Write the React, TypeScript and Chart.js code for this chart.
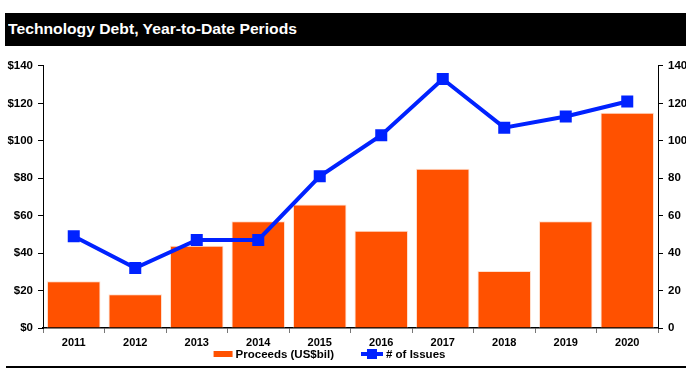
import React, { useEffect, useLayoutEffect, useRef } from "react";
import { Chart, registerables } from "chart.js";

Chart.register(...registerables);

const years = ["2011", "2012", "2013", "2014", "2015", "2016", "2017", "2018", "2019", "2020"];
const proceeds = [25, 18, 44, 57, 66, 52, 85, 30.5, 57, 115];
const issues = [49, 32, 47, 47, 81, 103, 133, 107, 113, 121];
const leftTicks = [0, 20, 40, 60, 80, 100, 120, 140];
const titleText = "Technology Debt, Year-to-Date Periods";
const proceedsLabel = "Proceeds (US$bil)";
const issuesLabel = "# of Issues";

const ORANGE = "#FF5100";
const BLUE = "#0022FF";
const FONT = "'Liberation Sans', Arial, sans-serif";

const legendPlugin = {
  id: "customLegend",
  afterDraw(chart: any) {
    const ctx = chart.ctx;
    const area = chart.chartArea;
    ctx.save();
    ctx.font = `bold 11.5px ${FONT}`;
    ctx.textBaseline = "middle";
    ctx.fillStyle = "#000";
    const y = area.bottom + 26;
    const w1 = ctx.measureText(proceedsLabel).width;
    const w2 = ctx.measureText(issuesLabel).width;
    const box = 19;
    const gap = 3;
    const between = 27;
    const total = box + gap + w1 + between + 22 + gap + w2;
    let x = area.left + (area.right - area.left) / 2 - 21 - total / 2;
    ctx.fillStyle = ORANGE;
    ctx.fillRect(x, y - 3, box, 6);
    x += box + gap;
    ctx.fillStyle = "#000";
    ctx.fillText(proceedsLabel, x, y + 0.5);
    x += w1 + between;
    ctx.strokeStyle = BLUE;
    ctx.lineWidth = 4;
    ctx.beginPath();
    ctx.moveTo(x, y);
    ctx.lineTo(x + 22, y);
    ctx.stroke();
    ctx.fillStyle = BLUE;
    ctx.fillRect(x + 11 - 5, y - 5, 10, 10);
    x += 22 + gap;
    ctx.fillStyle = "#000";
    ctx.fillText(issuesLabel, x, y + 0.5);
    ctx.restore();
  },
};

export default function App() {
  const canvasRef = useRef<HTMLCanvasElement | null>(null);
  const titleRef = useRef<HTMLSpanElement | null>(null);

  useLayoutEffect(() => {
    document.body.style.margin = "0";
    const el = titleRef.current;
    if (el) {
      const w = el.getBoundingClientRect().width;
      if (w > 0) el.style.transform = `scaleX(${289 / w})`;
    }
  }, []);

  useEffect(() => {
    if (!canvasRef.current) return;
    const chart = new Chart(canvasRef.current, {
      type: "bar",
      data: {
        labels: years,
        datasets: [
          {
            type: "line",
            label: issuesLabel,
            data: issues,
            yAxisID: "y1",
            borderColor: BLUE,
            backgroundColor: BLUE,
            borderWidth: 4,
            pointStyle: "rect",
            pointRadius: 8.5,
            pointBorderWidth: 0,
            pointBackgroundColor: BLUE,
            tension: 0,
            order: 0,
          } as any,
          {
            type: "bar",
            label: proceedsLabel,
            data: proceeds,
            yAxisID: "y",
            backgroundColor: ORANGE,
            borderColor: "rgba(255,220,200,0.9)",
            borderWidth: 1,
            barPercentage: 0.87,
            categoryPercentage: 1,
            order: 1,
          },
        ],
      },
      options: {
        responsive: false,
        animation: false,
        layout: { padding: { left: 0, right: 0, top: 0, bottom: 0 } },
        plugins: {
          legend: { display: false },
          tooltip: { enabled: false },
          title: { display: false },
        },
        scales: {
          x: {
            offset: true,
            grid: {
              display: true,
              offset: true,
              drawOnChartArea: false,
              drawTicks: true,
              tickLength: 5,
              color: "#777",
            },
            border: { display: true, color: "#000", width: 1.5 },
            ticks: {
              color: "#000",
              font: { family: FONT, weight: "bold", size: 11 },
              padding: 3,
              maxRotation: 0,
            },
            afterFit: (s: any) => {
              s.height = 40;
            },
          },
          y: {
            position: "left",
            min: 0,
            max: 140,
            afterBuildTicks: (s: any) => {
              s.ticks = leftTicks.map((v) => ({ value: v }));
            },
            grid: {
              display: true,
              drawOnChartArea: false,
              drawTicks: true,
              tickLength: 5,
              color: "#000",
            },
            border: { display: true, color: "#000", width: 1 },
            ticks: {
              color: "#000",
              font: { family: FONT, weight: "bold", size: 11.5 },
              padding: 5,
              callback: (v: any) => "$" + v,
            },
            afterFit: (s: any) => {
              s.width = 43;
            },
          },
          y1: {
            position: "right",
            min: 0,
            max: 140,
            afterBuildTicks: (s: any) => {
              s.ticks = leftTicks.map((v) => ({ value: v }));
            },
            grid: {
              display: true,
              drawOnChartArea: false,
              drawTicks: true,
              tickLength: 5,
              color: "#000",
            },
            border: { display: true, color: "#000", width: 1 },
            ticks: {
              color: "#000",
              font: { family: FONT, weight: "bold", size: 11.5 },
              padding: 5,
            },
            afterFit: (s: any) => {
              s.width = 28;
            },
          },
        },
      },
      plugins: [legendPlugin],
    });
    return () => chart.destroy();
  }, []);

  return (
    <div style={{ position: "relative", width: 686, height: 368, background: "#fff", overflow: "hidden" }}>
      <div
        style={{
          position: "absolute",
          left: 5,
          top: 13,
          width: 681,
          height: 33,
          background: "#000",
          color: "#fff",
        }}
      >
        <span
          ref={titleRef}
          style={{
            position: "absolute",
            left: 3,
            top: 7,
            font: `bold 15.5px ${FONT}`,
            whiteSpace: "nowrap",
            transformOrigin: "0 0",
            display: "inline-block",
            lineHeight: "18px",
          }}
        >
          {titleText}
        </span>
      </div>
      <canvas
        ref={canvasRef}
        width={686}
        height={314}
        style={{ position: "absolute", left: 0, top: 54, width: 686, height: 314 }}
      />
      <div
        style={{
          position: "absolute",
          left: 6,
          top: 366,
          width: 680,
          height: 1.5,
          background: "#000",
        }}
      />
    </div>
  );
}
